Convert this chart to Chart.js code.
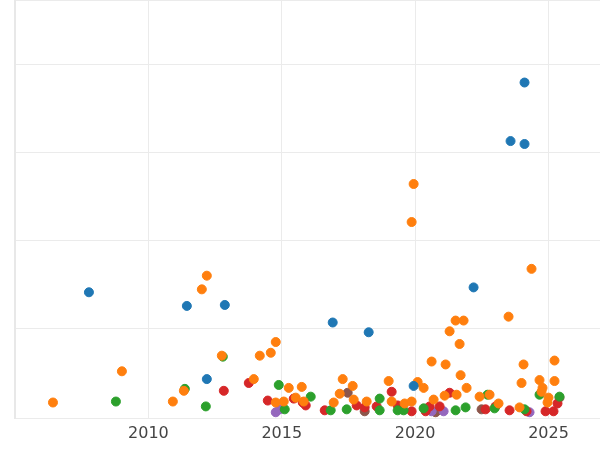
<!DOCTYPE html><html><head><script src="https://cdn.jsdelivr.net/npm/chart.js@4"></script>
<style>body{margin:0}#w{width:600px;height:450px}</style></head><body><div id="w"><canvas id="c"></canvas></div><script>
const xTicks=[2010,2015,2020,2025];
// pixel-read points converted to (year, value)
function P(a){return a.map(([px,py])=>({x:2005+(px-15)/26.7,y:(427-py)/90}));}
const blue=[[89,300],[187,314],[225,313],[207,389],[333,331],[369,341],[414,396],[474,295],[511,145],[525,148],[525,85]];
const orange=[[53,413],[122,381],[173,412],[184,401],[202,297],[207,283],[222,365],[254,389],[260,365],[271,362],[276,351],[284,412],[289,398],[296,408],[302,397],[276,413],[304,412],[334,413],[343,389],[340,404],[353,396],[354,410],[367,412],[389,391],[392,412],[405,414],[412,228],[414,189],[418,392],[424,398],[412,412],[432,371],[446,374],[450,340],[456,329],[464,329],[460,353],[461,385],[467,398],[457,405],[445,406],[434,410],[480,407],[490,405],[509,325],[524,374],[532,276],[522,393],[540,390],[543,398],[549,408],[555,370],[555,391],[499,414],[520,418],[548,413],[542,402]];
const green=[[116,412],[185,399],[206,417],[223,366],[279,395],[285,420],[311,407],[331,421],[347,420],[380,409],[380,421],[398,421],[404,421],[424,419],[456,421],[466,418],[488,405],[495,419],[525,420],[540,405],[560,407]];
const red=[[224,401],[249,393],[268,411],[294,409],[303,413],[306,416],[325,421],[357,416],[365,418],[377,417],[392,402],[398,416],[412,422],[426,422],[430,417],[450,403],[440,417],[486,420],[496,417],[510,421],[527,422],[558,414],[546,422],[554,422]];
const purple=[[276,423],[280,420],[432,422],[444,422],[530,423]];
const brown=[[348,403],[365,422],[436,423],[482,420],[560,408]];
const sets=[[blue,'#1f77b4'],[orange,'#ff7f0e'],[green,'#2ca02c'],[red,'#d62728'],[purple,'#9467bd'],[brown,'#8c564b']];
new Chart(document.getElementById('c'),{type:'scatter',
data:{datasets:sets.map(([d,c])=>({data:P(d),backgroundColor:c,borderColor:c,pointRadius:4.5,pointHoverRadius:4.5,clip:false}))},
options:{responsive:true,maintainAspectRatio:false,animation:false,layout:{autoPadding:false,padding:{left:15,top:0,right:0,bottom:2}},
plugins:{legend:{display:false},tooltip:{enabled:false}},
scales:{x:{type:'linear',min:2005,max:2026.93,afterBuildTicks:a=>{a.ticks=xTicks.map(v=>({value:v}));},
grid:{color:'#ebebeb',lineWidth:1,drawTicks:false},border:{display:false},
ticks:{color:'#444',font:{family:'DejaVu Sans',size:16},padding:5,maxRotation:0,callback:v=>String(v)}},
y:{min:-0.03,max:4.74,ticks:{display:false,stepSize:1},grid:{color:'#ebebeb',drawTicks:false},border:{color:'#e8e8e8',width:2}}}}});
</script></body></html>
